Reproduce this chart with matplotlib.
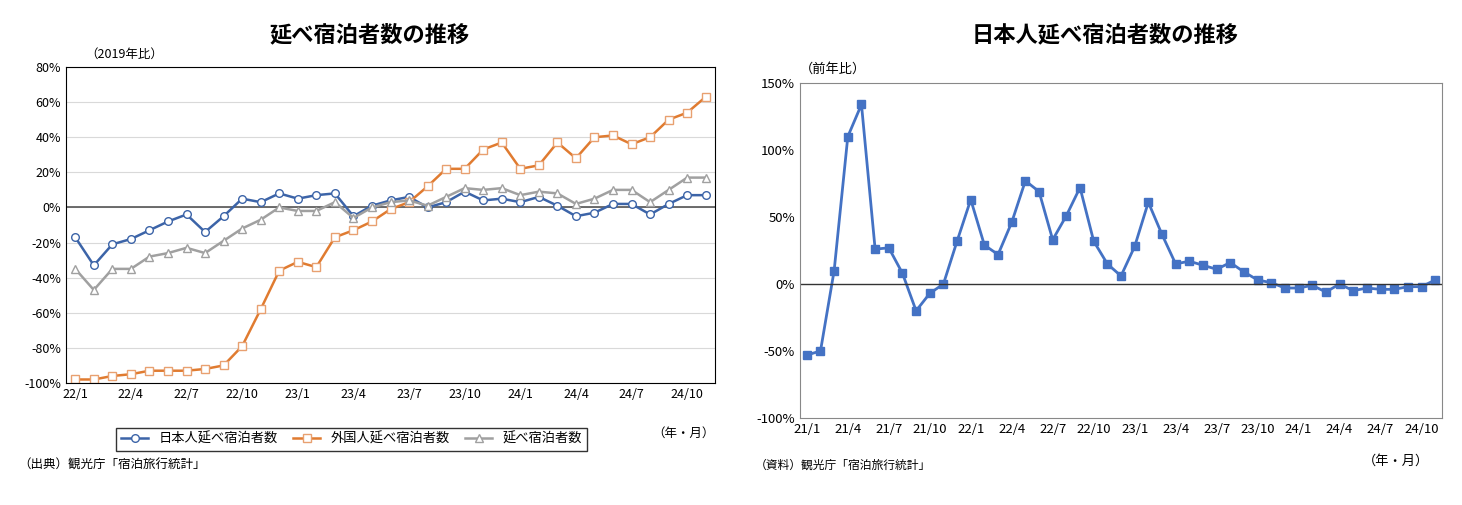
import matplotlib
matplotlib.use("Agg")
import matplotlib.pyplot as plt
from matplotlib.ticker import FuncFormatter

plt.rcParams['font.family'] = ['Noto Sans CJK JP', 'DejaVu Sans']

left_labels = ['22/1','22/4','22/7','22/10','23/1','23/4','23/7','23/10','24/1','24/4','24/7','24/10']
japanese = [-17,-33,-21,-18,-13,-8,-4,-14,-5,5,3,8,5,7,8,-5,1,4,6,0,3,9,4,5,3,6,1,-5,-3,2,2,-4,2,7,7]
foreign = [-98,-98,-96,-95,-93,-93,-93,-92,-90,-79,-58,-36,-31,-34,-17,-13,-8,-1,3,12,22,22,33,37,22,24,37,28,40,41,36,40,50,54,63]
total = [-35,-47,-35,-35,-28,-26,-23,-26,-19,-12,-7,0,-2,-2,3,-6,0,3,4,1,6,11,10,11,7,9,8,2,5,10,10,3,10,17,17]

right_labels = ['21/1','21/4','21/7','21/10','22/1','22/4','22/7','22/10','23/1','23/4','23/7','23/10','24/1','24/4','24/7','24/10']
japanese_yoy = [-53,-50,10,110,134,26,27,8,-20,-7,0,32,63,29,22,46,77,69,33,51,72,32,15,6,28,61,37,15,17,14,11,16,9,3,1,-3,-3,-1,-6,0,-5,-3,-4,-4,-2,-2,3]

W, H = 1462, 505
fig = plt.figure(figsize=(W/100, H/100), dpi=100)

def rect(x0, y0, x1, y1):
    return [x0/W, 1-y1/H, (x1-x0)/W, (y1-y0)/H]

pct = FuncFormatter(lambda v, p: f"{int(v)}%")

# Left chart
ax = fig.add_axes(rect(66, 67, 715, 383))
x = list(range(len(japanese)))
ax.plot(x, japanese, color='#3c64a8', lw=1.8, marker='o', ms=5.5, mfc='white', mec='#3c64a8', label='日本人延べ宿泊者数')
ax.plot(x, foreign, color='#e07b30', lw=1.8, marker='s', ms=5.5, mfc='white', mec='#e8a070', label='外国人延べ宿泊者数')
ax.plot(x, total, color='#a0a0a0', lw=1.8, marker='^', ms=5.5, mfc='white', mec='#a0a0a0', label='延べ宿泊者数')
ax.axhline(0, color='#555555', lw=1.2, zorder=1)
ax.set_ylim(-100, 80)
ax.set_yticks(range(-100, 81, 20))
ax.yaxis.set_major_formatter(pct)
ax.grid(axis='y', color='#d9d9d9', lw=0.8)
ax.set_axisbelow(True)
ax.set_xlim(-0.5, len(japanese)-0.5)
ax.set_xticks(range(0, len(japanese), 3))
ax.set_xticklabels(left_labels)
ax.tick_params(length=0, labelsize=9)
for s in ax.spines.values():
    s.set_color('black')
ax.text(0.03, 1.03, '（2019年比）', transform=ax.transAxes, fontsize=9, ha='left')
ax.text(1.0, -0.14, '（年・月）', transform=ax.transAxes, fontsize=9, ha='right', va='top')
fig.text(370/W, 1-35/H, '延べ宿泊者数の推移', fontsize=16, ha='center', va='center', fontweight='bold')
ax.legend(loc='upper center', bbox_to_anchor=(0.44, -0.12), ncol=3, fontsize=9.5,
          frameon=True, fancybox=False, edgecolor='black', handlelength=2, columnspacing=1.2)
fig.text(18/W, 1-465/H, '（出典）観光庁「宿泊旅行統計」', fontsize=9, va='center')

# Right chart
ax2 = fig.add_axes(rect(800, 83, 1442, 418))
x2 = list(range(len(japanese_yoy)))
ax2.plot(x2, japanese_yoy, color='#4472c4', lw=2, marker='s', ms=6, mfc='#4472c4', mec='#4472c4')
ax2.axhline(0, color='#333333', lw=1)
ax2.set_ylim(-100, 150)
ax2.set_yticks(range(-100, 151, 50))
ax2.yaxis.set_major_formatter(pct)
ax2.set_xlim(-0.5, len(japanese_yoy)-0.5)
ax2.set_xticks(range(0, len(japanese_yoy), 3))
ax2.set_xticklabels(right_labels)
ax2.tick_params(length=0, labelsize=9.5)
for s in ax2.spines.values():
    s.set_color('#888888')
ax2.text(0.0, 1.03, '（前年比）', transform=ax2.transAxes, fontsize=9.5, ha='left')
ax2.text(0.98, -0.14, '（年・月）', transform=ax2.transAxes, fontsize=9.5, ha='right')
fig.text(1105/W, 1-35/H, '日本人延べ宿泊者数の推移', fontsize=16, ha='center', va='center', fontweight='bold')
fig.text(755/W, 1-465/H, '（資料）観光庁「宿泊旅行統計」', fontsize=8.5, va='center')

fig.savefig('out.png', dpi=100)
